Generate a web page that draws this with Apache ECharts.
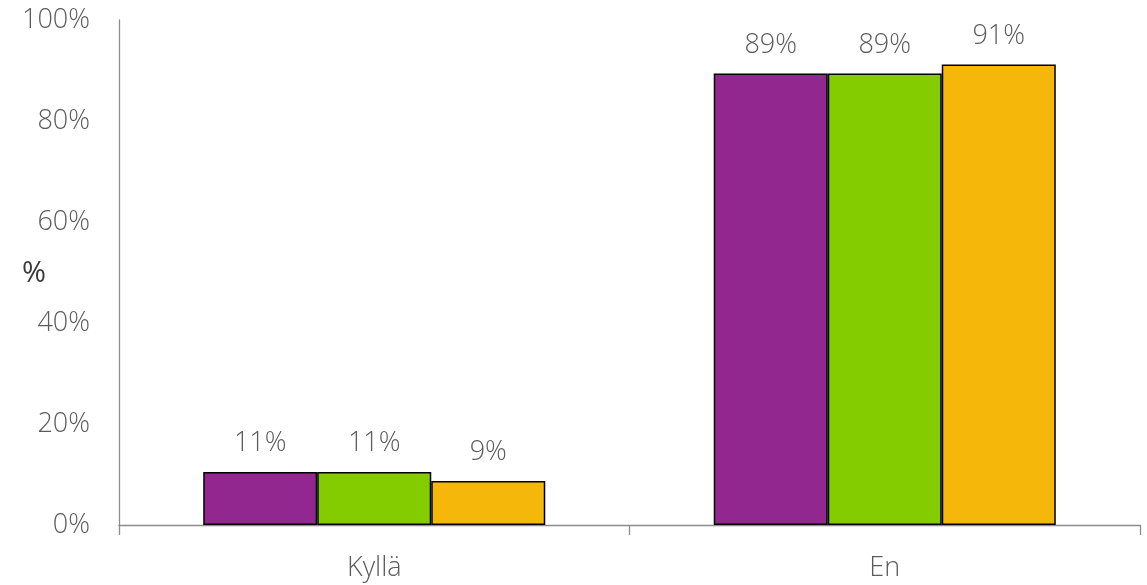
<!DOCTYPE html>
<html>
<head>
<meta charset="utf-8">
<script src="https://cdn.jsdelivr.net/npm/echarts@6/dist/echarts.min.js"></script>
<style>
html,body{margin:0;padding:0;background:#fff;}
#chart{width:1147px;height:585px;}
</style>
</head>
<body>
<div id="chart"></div>
<script>
const categories = ['Kyllä', 'En'];
const seriesA = [10.5, 89.4];
const seriesB = [10.5, 89.4];
const seriesC = [8.7, 91.2];
const colors = ['#92278F', '#84CC00', '#F5B80A'];
const yTicks = [0, 20, 40, 60, 80, 100];
const yAxisTitle = '%';

const FONT = '"Open Sans", "Segoe UI", sans-serif';
const TXT = '#5c5c5c';
const FS = 27;

function mk(data, i) {
  return {
    type: 'bar',
    data: data,
    barGap: '0%',
    barCategoryGap: '33%',
    itemStyle: { color: colors[i], borderColor: '#000', borderWidth: 1.5 },
    label: {
      show: true,
      position: 'top',
      distance: 15,
      formatter: p => Math.round(p.value) + '%',
      color: TXT,
      fontFamily: FONT,
      fontWeight: 300,
      fontSize: FS
    }
  };
}

const chart = echarts.init(document.getElementById('chart'));
chart.setOption({
  animation: false,
  grid: { left: 119, right: 7, top: 20, bottom: 60, containLabel: false, outerBoundsMode: 'none' },
  graphic: [{
    type: 'text',
    left: 22,
    top: 259,
    style: { text: yAxisTitle, fill: '#3a3a3a', font: '400 29px "Open Sans", sans-serif' }
  }],
  xAxis: {
    type: 'category',
    data: categories,
    axisLine: { lineStyle: { color: '#8c8c8c', width: 1.3 } },
    axisTick: { show: true, length: 10, lineStyle: { color: '#8c8c8c', width: 1.3 } },
    axisLabel: { color: TXT, fontFamily: FONT, fontWeight: 300, fontSize: FS, margin: 30 }
  },
  yAxis: {
    type: 'value',
    min: yTicks[0],
    max: yTicks[yTicks.length - 1],
    interval: 20,
    axisLine: { show: true, lineStyle: { color: '#8c8c8c', width: 1.3 } },
    axisTick: { show: false },
    splitLine: { show: false },
    axisLabel: { color: TXT, fontFamily: FONT, fontWeight: 300, fontSize: FS, margin: 29, formatter: v => v + '%' }
  },
  series: [mk(seriesA, 0), mk(seriesB, 1), mk(seriesC, 2)]
});
</script>
</body>
</html>
